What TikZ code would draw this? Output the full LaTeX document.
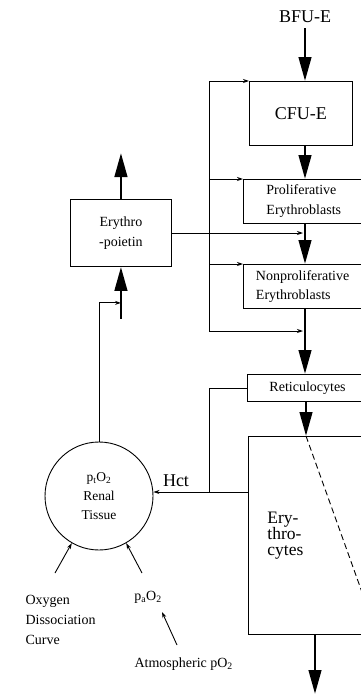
\documentclass[tikz,border=0pt]{standalone}
\usepackage{fontspec}
\setmainfont{Liberation Serif}
\usetikzlibrary{arrows.meta}
\begin{document}
\begin{tikzpicture}[x=1pt,y=-1pt,
  thinl/.style={line width=0.9pt},
  big/.style={line width=2.8pt,-{Triangle[length=24pt,width=12.5pt]}},
  small/.style={thinl,-{Stealth[length=6pt,width=4pt]}},
  box/.style={draw,thinl,inner ysep=0pt},
  sm/.style={font=\fontsize{14}{20}\selectfont},
  dashpat/.style={thinl,dash pattern=on 6pt off 3.5pt}
]
\useasboundingbox (0,0) rectangle (361,696);
\clip (0,0) rectangle (361,696);
\coordinate (sp) at (305,0);
\coordinate (L) at (209,0);
% top of chain
\node[font=\fontsize{18}{20}\selectfont] (BFU) at (305,17) {BFU-E};
\node[box,anchor=north west,minimum width=103pt,minimum height=64pt,inner sep=0pt,
  font=\fontsize{18}{20}\selectfont] (CFU) at (249,81) {CFU-E};
\node[box,sm,anchor=north west,text width=150pt,inner xsep=23pt,minimum height=44pt,align=left] (Pro) at (243,179) {Proliferative\\Erythroblasts};
\node[box,anchor=north west,text width=150pt,inner xsep=12.5pt,minimum height=44pt,align=left,
  font=\fontsize{14}{19}\selectfont] (Non) at (243,264) {Nonproliferative\\Erythroblasts};
\node[box,sm,anchor=north west,text width=150pt,inner xsep=22pt,minimum height=27pt,align=left] (Ret) at (247,374) {Reticulocytes};
\node[box,anchor=north west,text width=150pt,inner xsep=19pt,minimum height=198pt,align=left,
  font=\fontsize{17.5}{16}\selectfont] (Ery) at (248,436) {Ery-\\thro-\\cytes};
% erythropoietin
\node[box,sm,anchor=north west,minimum width=101pt,minimum height=67pt,align=center,inner sep=0pt] (Epo) at (70,199) {Erythro\\-poietin};
\node[draw,thinl,circle,minimum size=108pt,inner sep=0pt,align=center,
  font=\fontsize{13.5}{19}\selectfont] (Tis) at (99,496) {p\textsubscript{t}O\textsubscript{2}\\Renal\\Tissue};
\node[font=\fontsize{18}{20}\selectfont] (Hct) at (176,481) {Hct};
\node[sm,anchor=north west,align=left] (Oxy) at (22,592) {Oxygen\\Dissociation\\Curve};
\node[sm] (pa) at (148,597) {p\textsubscript{a}O\textsubscript{2}};
\node[sm,anchor=west] (Atm) at (131,664) {Atmospheric pO\textsubscript{2}};
% coordinates
\coordinate (bfuS) at (305,28);
\coordinate (epoOut) at ([yshift=46pt]Epo.north);
\coordinate (stubB) at ([yshift=-52pt]Epo.south);
\coordinate (stubJ) at ([yshift=-36pt]Epo.south);
\coordinate (epoJ) at (303,233);
\coordinate (Lb) at (209,331);
\coordinate (Jb) at (303,331);
\coordinate (hctJ) at (209,492);
\coordinate (eryIn) at (306,0);
\coordinate (eryOut) at (315,0);
\coordinate (endB) at (315,694);
\coordinate (dashE) at (377,634);
\coordinate (oxyA) at (55,573);
\coordinate (paA) at (142,573);
\coordinate (atmA) at (177,645);
\coordinate (atmT) at (162,612);
% main chain
\draw[big] (bfuS) -- (CFU.north -| sp);
\draw[big] (CFU.south -| sp) -- (Pro.north -| sp);
\draw[big] (Pro.south -| sp) -- (Non.north -| sp);
\draw[big] (Non.south -| sp) -- (Ret.north -| sp);
\draw[big] (Ret.south -| eryIn) -- (Ery.north -| eryIn);
\draw[big] (Ery.south -| eryOut) -- (endB);
\draw[dashpat] (Ery.north -| eryIn) -- (dashE);
% outer feedback frame
\draw[thinl] (L |- CFU.north) -- (Lb);
\draw[small] (L |- CFU.north) -- (CFU.north west);
\draw[small] (L |- Pro.north) -- (Pro.north west);
\draw[small] (L |- Non.north) -- (Non.north west);
\draw[small] (Lb) -- (Jb);
% erythropoietin
\draw[small] (Epo.east |- epoJ) -- (epoJ);
\draw[big] (Epo.north) -- (epoOut);
\draw[big] (stubB) -- (Epo.south);
\draw[small] (Tis.north) |- (stubJ);
% hct
\draw[thinl] (Ret.west) -| (hctJ);
\draw[small] (Ery.west |- hctJ) -- (hctJ -| Tis.east);
% inputs
\draw[small] (oxyA) -- (Tis.240);
\draw[small] (paA) -- (Tis.300);
\draw[small] (atmA) -- (atmT);
\end{tikzpicture}
\end{document}
